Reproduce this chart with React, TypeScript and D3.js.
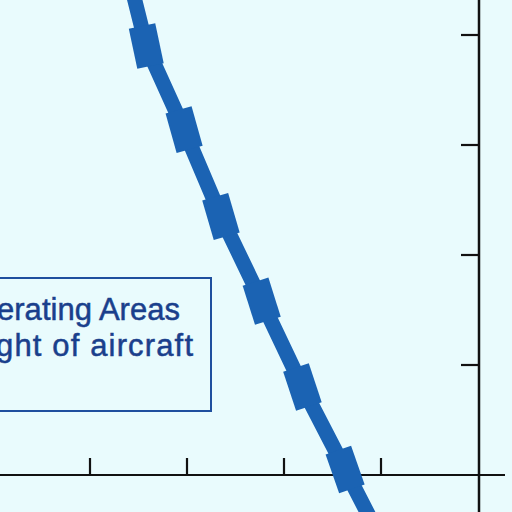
import * as d3 from "d3";

// ── Data ──────────────────────────────────────────────────
// centre line of the thick band, in axis units
const lineX = [1.41, 1.58, 1.97, 2.35, 2.77, 3.19, 3.63, 3.98];
const lineY = [4.5, 3.9, 3.14, 2.35, 1.58, 0.8, 0.05, -0.55];
// vertices that carry a wider block
const blockIdx = [1, 2, 3, 4, 5, 6];

const xTicks = [1, 2, 3, 4];
const yTicks = [1, 2, 3, 4];

const labelLines = ["erating Areas", "ght of aircraft"];

// ── Layout ────────────────────────────────────────────────
const W = 512;
const H = 512;
const BG = "#e9fbfd";
const BLUE = "#1b63b3";
const NAVY = "#1a3f8c";

const x = d3.scaleLinear().domain([1, 5]).range([90, 478]);
const y = d3.scaleLinear().domain([0, 4]).range([475, 35]);

const BAND_W = 15;
const BLOCK_W = 27;
const BLOCK_L = 41;
const BLOCK_TILT = 8; // blocks sit a little steeper than the band

// label text spans (left edge is clipped by the frame, like the original)
const labelSpan = [
  { x0: -3, x1: 180, base: 320 },
  { x0: -4, x1: 193, base: 356 },
];

export default function App() {
  const pts: [number, number][] = lineX.map((v, i) => [x(v), y(lineY[i])]);
  const path = d3.line()(pts) || "";

  const blocks = blockIdx.map(i => {
    const [px, py] = pts[i];
    const [ax, ay] = pts[i - 1];
    const [bx, by] = pts[i + 1];
    // angle of local direction measured from vertical
    const ang = (Math.atan2(bx - ax, by - ay) * 180) / Math.PI;
    return { i, px, py, rot: -(ang - BLOCK_TILT) };
  });

  const x0 = x(xTicks[0]) - 100;
  const axisX = x(5) + 1;
  const axisY = y(0);

  return (
    <div style={{ position: "fixed", left: 0, top: 0, width: W, height: H }}>
      <svg width={W} height={H} style={{ display: "block" }}>
        <rect width={W} height={H} fill={BG} />

        {/* ── Label box ── */}
        <rect x={-10} y={278} width={221} height={133}
          fill="none" stroke="#1f4f9e" strokeWidth={2} />
        {labelLines.map((t, k) => (
          <text key={k} x={labelSpan[k].x0} y={labelSpan[k].base}
            textLength={labelSpan[k].x1 - labelSpan[k].x0}
            lengthAdjust="spacing" fontSize={31}
            fontFamily="'Liberation Sans', Arial, sans-serif"
            fill={NAVY} stroke={NAVY} strokeWidth={0.5}>
            {t}
          </text>
        ))}

        {/* ── Axes ── */}
        <line x1={x0} x2={505} y1={axisY} y2={axisY}
          stroke="#111" strokeWidth={2.2} />
        {xTicks.map(t => (
          <line key={t} x1={x(t)} x2={x(t)} y1={axisY} y2={axisY - 17}
            stroke="#111" strokeWidth={2.2} />
        ))}
        <line x1={axisX} x2={axisX} y1={0} y2={H}
          stroke="#111" strokeWidth={2.5} />
        {yTicks.map(t => (
          <line key={t} x1={axisX} x2={axisX - 18} y1={y(t)} y2={y(t)}
            stroke="#111" strokeWidth={2.2} />
        ))}

        {/* ── Band ── */}
        <path d={path} fill="none" stroke={BLUE} strokeWidth={BAND_W}
          strokeLinejoin="round" />
        {blocks.map(b => (
          <rect key={b.i}
            x={-BLOCK_W / 2} y={-BLOCK_L / 2}
            width={BLOCK_W} height={BLOCK_L}
            transform={`translate(${b.px},${b.py}) rotate(${b.rot})`}
            fill={BLUE} />
        ))}
      </svg>
    </div>
  );
}
